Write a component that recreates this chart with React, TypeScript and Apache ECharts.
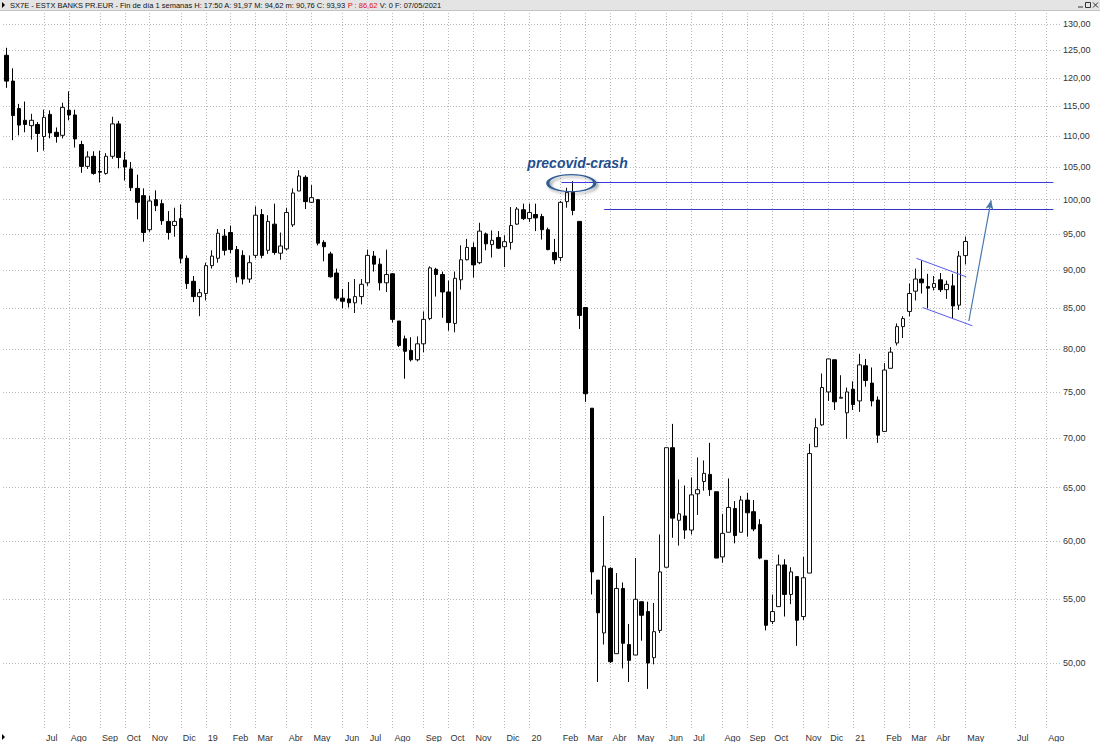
import React, { useEffect, useRef } from 'react';
import * as echarts from 'echarts';

// ---- Data (weekly bars, each dated on its Friday) ----
const FIRST_FRIDAY = '2018-05-25';

const OPEN = [
  124.1, 119.4, 114.6, 112.6, 111.7, 111.9, 109.9, 113.6, 110.6, 110.1,
  114.3, 113.5, 108.6, 105.1, 106.7, 104.3, 104.0, 106.7, 112.0, 106.1,
  104.7, 101.7, 100.6, 95.6, 100.0, 99.4, 96.8, 96.2, 97.2, 91.6,
  88.5, 86.5, 86.9, 90.6, 91.6, 94.7, 95.2, 92.8, 92.0, 88.8,
  92.0, 97.8, 92.7, 96.4, 92.3, 92.9, 96.3, 101.3, 103.4, 99.6,
  100.0, 93.8, 92.2, 89.6, 86.3, 86.2, 85.7, 86.5, 88.3, 91.9,
  90.8, 88.3, 89.5, 83.4, 81.2, 79.8, 78.7, 80.6, 83.7, 90.1,
  89.4, 87.1, 83.1, 88.7, 91.4, 93.1, 91.0, 95.0, 93.5, 94.5,
  93.2, 93.8, 96.4, 98.5, 97.2, 97.8, 97.5, 95.6, 92.4, 91.7,
  99.7, 101.1, 96.8, 85.1, 73.2, 56.6, 52.3, 57.6, 50.7, 55.9,
  51.4, 50.6, 54.8, 54.0, 50.4, 52.5, 57.7, 69.0, 61.9, 62.3,
  61.0, 64.4, 65.6, 66.3, 64.6, 58.6, 60.8, 63.0, 60.8, 63.8,
  62.7, 61.5, 58.3, 53.2, 54.4, 57.9, 55.4, 56.9, 53.6, 57.2,
  69.1, 71.4, 75.0, 78.7, 74.3, 72.7, 75.3, 74.0, 78.0, 76.0,
  74.1, 70.7, 77.7, 80.7, 82.7, 84.6, 87.2, 88.8, 87.8, 87.7,
  88.7, 87.4, 87.9, 85.4, 91.97
];
const CLOSE = [
  119.4, 113.4, 111.8, 111.9, 112.6, 110.4, 113.1, 110.5, 109.9, 114.8,
  113.5, 109.5, 105.1, 106.6, 104.0, 104.2, 106.7, 112.0, 106.5, 105.0,
  101.8, 99.6, 95.2, 99.8, 99.1, 96.9, 95.2, 96.8, 91.6, 88.2,
  86.5, 87.0, 90.6, 91.9, 95.1, 92.7, 92.8, 89.1, 88.8, 91.0,
  97.7, 92.0, 96.8, 92.4, 93.3, 98.1, 101.0, 103.6, 99.7, 100.3,
  93.7, 93.2, 89.1, 86.3, 85.9, 85.7, 86.5, 88.1, 92.0, 90.8,
  88.3, 89.4, 83.6, 80.4, 79.7, 78.7, 80.6, 83.6, 90.3, 89.4,
  87.1, 83.2, 88.9, 91.4, 93.1, 90.7, 95.4, 93.6, 94.1, 93.0,
  93.9, 96.2, 98.6, 97.2, 98.1, 97.3, 95.6, 92.8, 91.4, 99.6,
  101.1, 98.4, 84.1, 74.8, 57.3, 53.9, 57.8, 50.1, 55.9, 51.5,
  50.2, 55.0, 53.7, 50.0, 52.4, 57.3, 69.0, 62.1, 62.5, 61.0,
  64.3, 64.8, 66.4, 64.8, 58.5, 60.7, 63.1, 60.5, 63.8, 62.6,
  61.1, 58.5, 52.9, 54.0, 57.9, 55.4, 57.3, 53.3, 56.8, 68.4,
  71.1, 75.5, 78.8, 73.9, 74.4, 75.0, 73.6, 78.1, 76.3, 74.0,
  70.3, 77.5, 79.6, 82.7, 83.7, 86.9, 88.8, 88.3, 87.6, 88.2,
  87.4, 88.1, 85.3, 91.9, 93.93
];
const LOW = [
  118.2, 109.3, 110.1, 110.6, 109.4, 107.4, 107.6, 109.6, 108.9, 109.6,
  112.6, 108.1, 104.1, 104.7, 103.8, 102.6, 103.8, 106.3, 104.8, 102.9,
  101.3, 97.1, 93.9, 95.3, 98.3, 96.3, 94.2, 94.6, 90.9, 87.5,
  85.8, 84.0, 86.0, 90.2, 91.0, 92.0, 92.3, 88.3, 88.1, 88.3,
  91.6, 91.6, 92.2, 92.1, 91.4, 92.7, 96.0, 101.3, 98.6, 99.5,
  93.4, 91.2, 89.0, 86.0, 85.0, 85.1, 84.4, 85.5, 87.9, 89.8,
  87.3, 87.1, 83.2, 80.2, 76.5, 78.5, 78.5, 79.6, 83.5, 86.5,
  83.8, 82.2, 82.0, 87.4, 91.3, 89.0, 90.8, 92.7, 91.7, 92.9,
  90.4, 92.8, 96.3, 97.0, 96.7, 95.4, 94.2, 92.7, 90.8, 91.2,
  98.8, 97.7, 82.4, 73.9, 55.4, 48.6, 51.4, 50.0, 50.7, 49.6,
  48.6, 50.6, 51.7, 48.1, 49.9, 52.3, 57.7, 60.3, 59.6, 60.2,
  60.6, 62.4, 64.7, 64.2, 58.5, 58.1, 60.8, 59.8, 60.8, 60.4,
  60.9, 58.4, 52.5, 53.0, 54.4, 53.6, 54.6, 51.3, 53.3, 57.2,
  69.1, 71.3, 74.0, 73.0, 74.3, 69.9, 73.0, 72.8, 75.6, 73.4,
  69.5, 70.7, 77.7, 80.4, 81.3, 84.0, 86.0, 86.9, 85.0, 87.3,
  87.1, 86.2, 83.7, 84.8, 90.76
];
const HIGH = [
  125.5, 121.7, 115.4, 115.8, 113.7, 112.3, 114.4, 114.3, 111.4, 115.6,
  117.6, 114.4, 109.2, 107.5, 107.5, 107.6, 107.2, 113.2, 112.5, 107.4,
  105.8, 103.8, 101.7, 100.6, 101.4, 100.0, 98.3, 98.8, 99.3, 92.0,
  89.2, 87.5, 91.0, 92.7, 95.7, 95.7, 96.2, 93.3, 92.7, 92.0,
  99.0, 98.6, 97.7, 99.4, 95.2, 98.8, 101.7, 104.5, 103.7, 102.2,
  100.1, 94.1, 92.5, 90.2, 87.5, 88.4, 88.8, 88.8, 92.8, 92.6,
  91.6, 92.8, 89.6, 83.4, 81.6, 81.4, 81.5, 84.6, 90.5, 90.3,
  89.8, 88.6, 89.8, 93.4, 94.3, 93.8, 96.6, 95.2, 95.5, 95.4,
  94.8, 98.9, 98.9, 99.4, 99.4, 99.4, 97.9, 95.9, 94.3, 99.8,
  101.8, 102.8, 96.8, 85.1, 73.2, 56.6, 62.3, 57.7, 57.2, 56.4,
  53.0, 58.5, 54.8, 54.8, 54.7, 60.6, 69.0, 71.5, 65.8, 65.2,
  66.0, 68.0, 67.7, 69.5, 64.6, 62.5, 65.9, 63.7, 64.2, 64.5,
  63.8, 62.0, 58.3, 55.4, 58.8, 58.4, 57.7, 56.9, 58.6, 69.4,
  72.1, 77.1, 78.8, 78.7, 76.9, 75.5, 76.2, 79.4, 78.8, 77.8,
  74.5, 78.3, 80.2, 83.1, 84.0, 88.2, 90.2, 91.3, 89.5, 89.2,
  89.6, 88.6, 89.5, 92.6, 94.62
];

const Y_TICKS = [50, 55, 60, 65, 70, 75, 80, 85, 90, 95, 100, 105, 110, 115, 120, 125, 130];
const MONTH_NAMES = ['Ene', 'Feb', 'Mar', 'Abr', 'May', 'Jun', 'Jul', 'Ago', 'Sep', 'Oct', 'Nov', 'Dic'];
const TICK_MONTHS = [
  '2018-07', '2018-08', '2018-09', '2018-10', '2018-11', '2018-12',
  '2019-01', '2019-02', '2019-03', '2019-04', '2019-05', '2019-06',
  '2019-07', '2019-08', '2019-09', '2019-10', '2019-11', '2019-12',
  '2020-01', '2020-02', '2020-03', '2020-04', '2020-05', '2020-06',
  '2020-07', '2020-08', '2020-09', '2020-10', '2020-11', '2020-12',
  '2021-01', '2021-02', '2021-03', '2021-04', '2021-05', '2021-07', '2021-08'
];

// Annotation levels / drawn lines (date, value)
const RESIST_1 = [['2020-02-08', 102.6], ['2021-08-14', 102.6]];
const RESIST_2 = [['2020-03-27', 98.5], ['2021-08-14', 98.5]];
const FLAG_UPPER = [['2021-03-13', 91.6], ['2021-05-08', 89.1]];
const FLAG_LOWER = [['2021-03-20', 85.1], ['2021-05-15', 82.8]];
const TARGET_ARROW = [['2021-05-11', 83.4], ['2021-06-05', 99.9]];
const ELLIPSE_AT = ['2020-02-19', 102.5];
const LABEL_AT = ['2019-12-31', 105.6];
const AXIS_RANGE = ['2018-05-21', '2021-08-17'];

const TITLE_MAIN = 'SX7E - ESTX BANKS PR.EUR - Fin de día 1 semanas H: 17:50 A: 91,97 M: 94,62 m: 90,76 C: 93,93 ';
const TITLE_RED = 'P : 86,62';
const TITLE_TAIL = ' V: 0 F: 07/05/2021';

function ts(s: string): number {
  const [y, m, d] = s.split('-').map(Number);
  return new Date(y, m - 1, d || 1).getTime();
}
function weekDate(i: number): number {
  const [y, m, d] = FIRST_FRIDAY.split('-').map(Number);
  return new Date(y, m - 1, d + 7 * i).getTime();
}
function firstFriday(ym: string): number {
  const [y, m] = ym.split('-').map(Number);
  const d = new Date(y, m - 1, 1);
  const add = (5 - d.getDay() + 7) % 7;
  return new Date(y, m - 1, 1 + add).getTime();
}

const FONT = '"Liberation Sans", Arial, sans-serif';
const GRID_STYLE = { color: '#b8b8b8', width: 1, type: [1, 2] as number[] };

export default function App() {
  const ref = useRef<HTMLDivElement>(null);

  useEffect(() => {
    if (!ref.current) return;
    const chart = echarts.init(ref.current, undefined, { renderer: 'svg' });

    const data = OPEN.map((o, i) => [weekDate(i), o, CLOSE[i], LOW[i], HIGH[i]]);
    const tickValues = TICK_MONTHS.map(firstFriday);

    const seg = (pts: (string | number)[][], color: string, width: number, arrow = false) => [
      { coord: [ts(pts[0][0] as string), pts[0][1]], symbol: 'none' },
      {
        coord: [ts(pts[1][0] as string), pts[1][1]],
        symbol: arrow ? 'arrow' : 'none',
        symbolSize: arrow ? [6, 9] : 0,
        lineStyle: { color, width, type: 'solid' },
        itemStyle: { color }
      }
    ];

    const option: any = {
      animation: false,
      backgroundColor: '#ffffff',
      grid: { left: 3, right: 44, top: 10, bottom: 13, containLabel: false, outerBoundsMode: 'none' },
      xAxis: {
        type: 'value',
        min: ts(AXIS_RANGE[0]),
        max: ts(AXIS_RANGE[1]),
        scale: true,
        axisLine: { show: false },
        axisTick: { show: false, customValues: tickValues },
        axisLabel: {
          customValues: tickValues,
          formatter: (v: number) => {
            const d = new Date(v);
            const m = d.getMonth();
            return m === 0 ? String(d.getFullYear()).slice(2) : MONTH_NAMES[m];
          },
          align: 'left',
          margin: 4,
          padding: [0, 0, 0, 2],
          fontSize: 9,
          color: '#333',
          fontFamily: FONT,
          hideOverlap: false
        },
        splitLine: { show: true, lineStyle: GRID_STYLE }
      },
      yAxis: {
        type: 'log',
        logBase: 10,
        min: 45.3,
        max: 132.8,
        position: 'right',
        axisLine: { show: false },
        axisTick: { show: true, customValues: Y_TICKS, length: 5, lineStyle: GRID_STYLE },
        axisLabel: {
          customValues: Y_TICKS,
          formatter: (v: number) => v.toFixed(2).replace('.', ','),
          margin: 7,
          fontSize: 9,
          color: '#333',
          fontFamily: FONT
        },
        splitLine: { show: true, lineStyle: GRID_STYLE }
      },
      series: [
        {
          type: 'candlestick',
          data,
          barWidth: 4,
          silent: true,
          itemStyle: {
            color: '#ffffff',
            color0: '#000000',
            borderColor: '#111111',
            borderColor0: '#000000',
            borderWidth: 1
          },
          markLine: {
            silent: true,
            symbol: ['none', 'none'],
            label: { show: false },
            emphasis: { disabled: true },
            data: [
              seg(RESIST_1, '#3b3be0', 1),
              seg(RESIST_2, '#3434c8', 1),
              seg(FLAG_UPPER, '#5a5aee', 1),
              seg(FLAG_LOWER, '#5a5aee', 1),
              seg(TARGET_ARROW, '#4a78ae', 1.2, true)
            ]
          },
          markPoint: {
            silent: true,
            data: [
              {
                coord: [ts(ELLIPSE_AT[0] as string), ELLIPSE_AT[1]],
                symbol: 'path://M0 50A50 50 0 1 1 100 50A50 50 0 1 1 0 50Z',
                symbolSize: [47, 17],
                symbolKeepAspect: false,
                itemStyle: {
                  color: 'rgba(0,0,0,0)',
                  borderColor: '#2e5d96',
                  borderWidth: 2,
                  shadowColor: 'rgba(0,0,0,0.4)',
                  shadowBlur: 3,
                  shadowOffsetX: 2,
                  shadowOffsetY: 2
                },
                label: { show: false }
              },
              {
                coord: [ts(LABEL_AT[0] as string), LABEL_AT[1]],
                symbol: 'rect',
                symbolSize: 1,
                itemStyle: { color: 'rgba(0,0,0,0)' },
                label: {
                  show: true,
                  position: 'right',
                  distance: 0,
                  formatter: 'precovid-crash',
                  color: '#1f4e8e',
                  fontSize: 14,
                  fontWeight: 'bold',
                  fontStyle: 'italic',
                  fontFamily: FONT
                }
              }
            ]
          }
        }
      ],
      graphic: [
        { type: 'rect', shape: { x: 0, y: 0, width: 1100, height: 10 }, style: { fill: '#e4e4e4' }, z: 100 },
        { type: 'line', shape: { x1: 0, y1: 10.5, x2: 1100, y2: 10.5 }, style: { stroke: '#c4c4c4', lineWidth: 1 }, z: 100 },
        { type: 'polygon', shape: { points: [[2, 2], [2, 8], [5, 5]] }, style: { fill: '#000' }, z: 101 },
        {
          type: 'text',
          x: 10,
          y: 5,
          z: 101,
          style: {
            text: '{a|' + TITLE_MAIN + '}{b|' + TITLE_RED + '}{a|' + TITLE_TAIL + '}',
            verticalAlign: 'middle',
            rich: {
              a: { fontSize: 7.5, fill: '#111', fontFamily: FONT },
              b: { fontSize: 7.5, fill: '#e01010', fontFamily: FONT }
            }
          }
        },
        { type: 'line', shape: { x1: 1078, y1: 7, x2: 1083, y2: 7 }, style: { stroke: '#333', lineWidth: 1 }, z: 101 },
        { type: 'rect', shape: { x: 1085.5, y: 2.5, width: 5, height: 5 }, style: { fill: 'none', stroke: '#333', lineWidth: 1 }, z: 101 },
        { type: 'line', shape: { x1: 1093, y1: 2.5, x2: 1098, y2: 7.5 }, style: { stroke: '#333', lineWidth: 1 }, z: 101 },
        { type: 'line', shape: { x1: 1098, y1: 2.5, x2: 1093, y2: 7.5 }, style: { stroke: '#333', lineWidth: 1 }, z: 101 },
        { type: 'polygon', shape: { points: [[2, 734], [2, 740], [5, 737]] }, style: { fill: '#000' }, z: 101 }
      ]
    };

    chart.setOption(option);
    return () => chart.dispose();
  }, []);

  return (
    <div
      ref={ref}
      style={{ position: 'absolute', left: 0, top: 0, width: 1100, height: 742, background: '#fff' }}
    />
  );
}
